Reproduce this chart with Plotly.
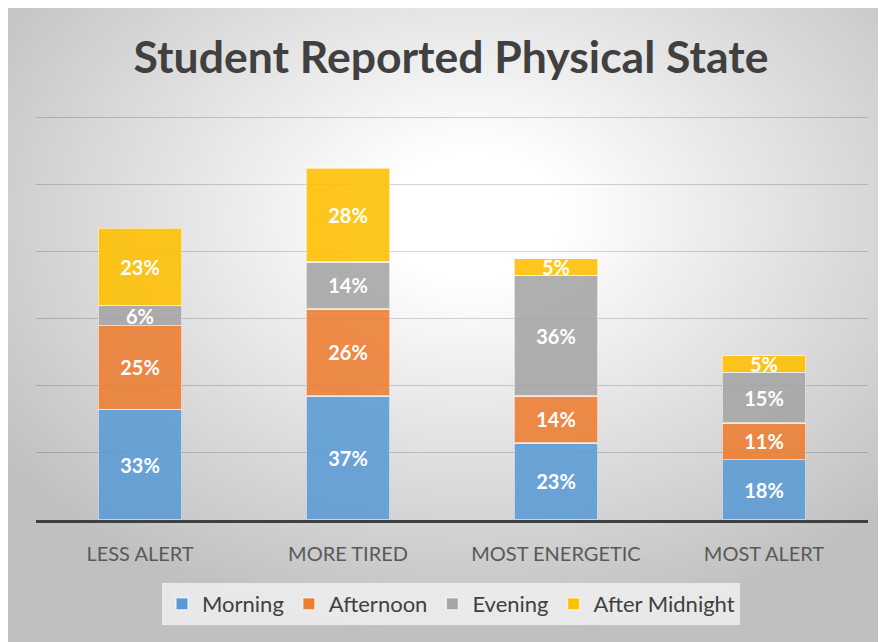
import base64
import plotly.graph_objects as go

categories = ["LESS ALERT", "MORE TIRED", "MOST ENERGETIC", "MOST ALERT"]
series_names = ["Morning", "Afternoon", "Evening", "After Midnight"]
morning = [33, 37, 23, 18]
afternoon = [25, 26, 14, 11]
evening = [6, 14, 36, 15]
after_midnight = [23, 28, 5, 5]
series_values = [morning, afternoon, evening, after_midnight]
colors = ["#5b9bd5", "#ed7d31", "#a5a5a5", "#ffc000"]

fig = go.Figure()
for name, vals, col in zip(series_names, series_values, colors):
    fig.add_trace(go.Bar(
        name=name, x=categories, y=vals,
        marker=dict(color=col, opacity=0.88,
                    line=dict(color="rgba(255,255,255,0.6)", width=1.5)),
        text=[f"{v}%" for v in vals],
        textposition="inside", insidetextanchor="middle",
        textfont=dict(family="Lato", size=20, color="white", weight="bold"),
        hoverinfo="skip",
    ))

svg = ('<svg xmlns="http://www.w3.org/2000/svg" width="100" height="100" preserveAspectRatio="none">'
       '<defs><radialGradient id="g" cx="0.53" cy="0.33" r="0.66">'
       '<stop offset="0" stop-color="#ffffff"/>'
       '<stop offset="0.15" stop-color="#ffffff"/>'
       '<stop offset="1" stop-color="#c0c0c0"/>'
       '</radialGradient></defs>'
       '<rect x="0" y="0" width="100" height="100" fill="url(#g)"/></svg>')
src = "data:image/svg+xml;base64," + base64.b64encode(svg.encode()).decode()

# page body has an 8px offset; work in figure coordinates
OFF = 8
YMAX = 122.0
W, H = 886 - OFF, 642 - OFF
unit = (520 - 118) / 120.0
B = 520 - OFF
T = B - YMAX * unit
L, R = 36 - OFF, 868 - OFF
pw, ph = R - L, B - T

def px(x):
    return (x - OFF - L) / pw

def py(y):
    return (B - (y - OFF)) / ph

fig.add_layout_image(dict(
    source=src, xref="paper", yref="paper",
    x=-L / pw, y=B / ph, sizex=W / pw, sizey=H / ph,
    xanchor="left", yanchor="top", sizing="stretch", layer="below",
))

fig.update_layout(
    width=W, height=H,
    margin=dict(l=L, r=W - R, t=T, b=H - B),
    paper_bgcolor="white", plot_bgcolor="rgba(0,0,0,0)",
    barmode="stack", bargap=0.6,
    title=dict(text="<b>Student Reported Physical State</b>", x=(451 - OFF) / W,
               xanchor="center", y=1 - (57 - OFF) / H, yanchor="middle",
               font=dict(family="Lato", size=44.5, color="#404040")),
    uniformtext=dict(minsize=20, mode="show"),
    showlegend=True,
    legend=dict(orientation="h", x=px(451), xanchor="center", y=py(583), yanchor="top",
                bgcolor="rgba(245,245,245,0.75)",
                font=dict(family="Lato", size=22, color="#404040"),
                itemwidth=30, traceorder="normal"),
    font=dict(family="Lato"),
)
fig.update_xaxes(showgrid=False, showline=True, linecolor="#404040", linewidth=3,
                 ticks="", ticklabelstandoff=14,
                 tickfont=dict(family="Lato", size=20, color="#595959"))
fig.update_yaxes(range=[0, YMAX], tickvals=[20, 40, 60, 80, 100, 120],
                 showticklabels=False, showgrid=True,
                 gridcolor="rgba(0,0,0,0.17)", gridwidth=1, zeroline=False, showline=False)

fig.write_html("out.html")
